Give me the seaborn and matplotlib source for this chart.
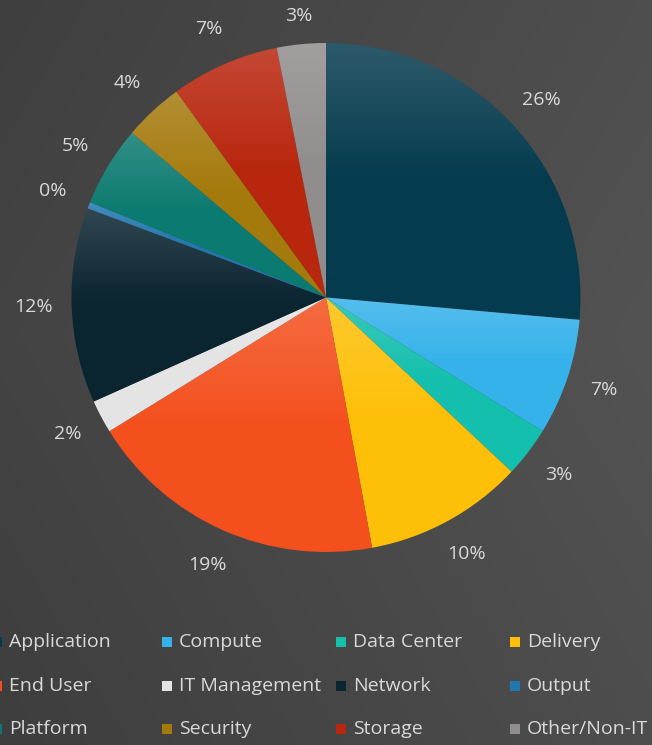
import numpy as np
import matplotlib.pyplot as plt
import matplotlib.patches as mpatches
import seaborn as sns

# ---- data ----
categories = ["Application", "Compute", "Data Center", "Delivery",
              "End User", "IT Management", "Network", "Output",
              "Platform", "Security", "Storage", "Other/Non-IT"]
shares = [26.4, 7.4, 3.2, 10.1, 19.1, 2.1, 12.4, 0.4, 5.1, 3.8, 6.9, 3.1]
colors = ["#053b4e", "#35b2ea", "#14bfad", "#fdbf07",
          "#f4501e", "#e4e4e4", "#0a2430", "#1f78b0",
          "#0b7a70", "#a57a0d", "#b9260e", "#918d8d"]

TEXT = "#d9d9d9"
W, H = 652, 745

sns.set_theme(style="dark")
plt.rcParams["font.family"] = ["Open Sans", "DejaVu Sans"]

fig = plt.figure(figsize=(W / 100, H / 100), dpi=100)

# dark gray gradient background
bg = fig.add_axes([0, 0, 1, 1], zorder=0)
gx, gy = np.meshgrid(np.linspace(0, 1, 300), np.linspace(0, 1, 300))
shade = 0.245 + 0.06 * gx + 0.02 * (1 - np.abs(gy - 0.45) * 2)
bg.imshow(np.dstack([shade] * 3), extent=[0, 1, 0, 1], aspect="auto", origin="upper")
bg.set_axis_off()

# pie axes, centre (326, 297) px, radius ~254 px
cx, cy, r = 326, 297.5, 254.5
ax = fig.add_axes([(cx - r) / W, (H - cy - r) / H, 2 * r / W, 2 * r / H], zorder=1)
wedges, _, autotexts = ax.pie(
    shares, colors=colors, startangle=90, counterclock=False,
    autopct="%1.0f%%", pctdistance=1.15, radius=1,
    wedgeprops=dict(linewidth=0),
    textprops=dict(color=TEXT, fontsize=14),
)
# the label above the pie sits a little closer in the source
lx, ly = autotexts[-1].get_position()
autotexts[-1].set_position((lx * 1.11 / 1.15, ly * 1.11 / 1.15))

# soft top highlight on each slice (office-style gradient fill)
grad = np.zeros((100, 1, 4))
grad[..., :3] = 1.0
grad[:, 0, 3] = np.clip(0.16 * (1 - np.linspace(0, 1, 100) / 0.5), 0, None)
for w in wedges:
    v = w.get_path().vertices
    img = ax.imshow(grad, extent=[v[:, 0].min(), v[:, 0].max(), v[:, 1].min(), v[:, 1].max()],
                    aspect="auto", origin="upper", zorder=w.get_zorder() + 0.1)
    img.set_clip_path(w)
ax.set_xlim(-1, 1)
ax.set_ylim(-1, 1)
ax.set_axis_off()

# legend laid out like the source (4 even columns, left edge cropped)
col_x = [-8, 162, 336, 510]
row_y = [642, 686, 729]
box = 10
for i, (name, c) in enumerate(zip(categories, colors)):
    x0 = col_x[i % 4]
    y0 = row_y[i // 4]
    fig.add_artist(mpatches.Rectangle(
        (x0 / W, (H - y0 - box / 2) / H), box / W, box / H,
        facecolor=c, edgecolor="none", transform=fig.transFigure))
    fig.text((x0 + 17) / W, (H - y0) / H, name, color=TEXT,
             fontsize=14, va="center", ha="left")

fig.savefig("out.png", dpi=100)
